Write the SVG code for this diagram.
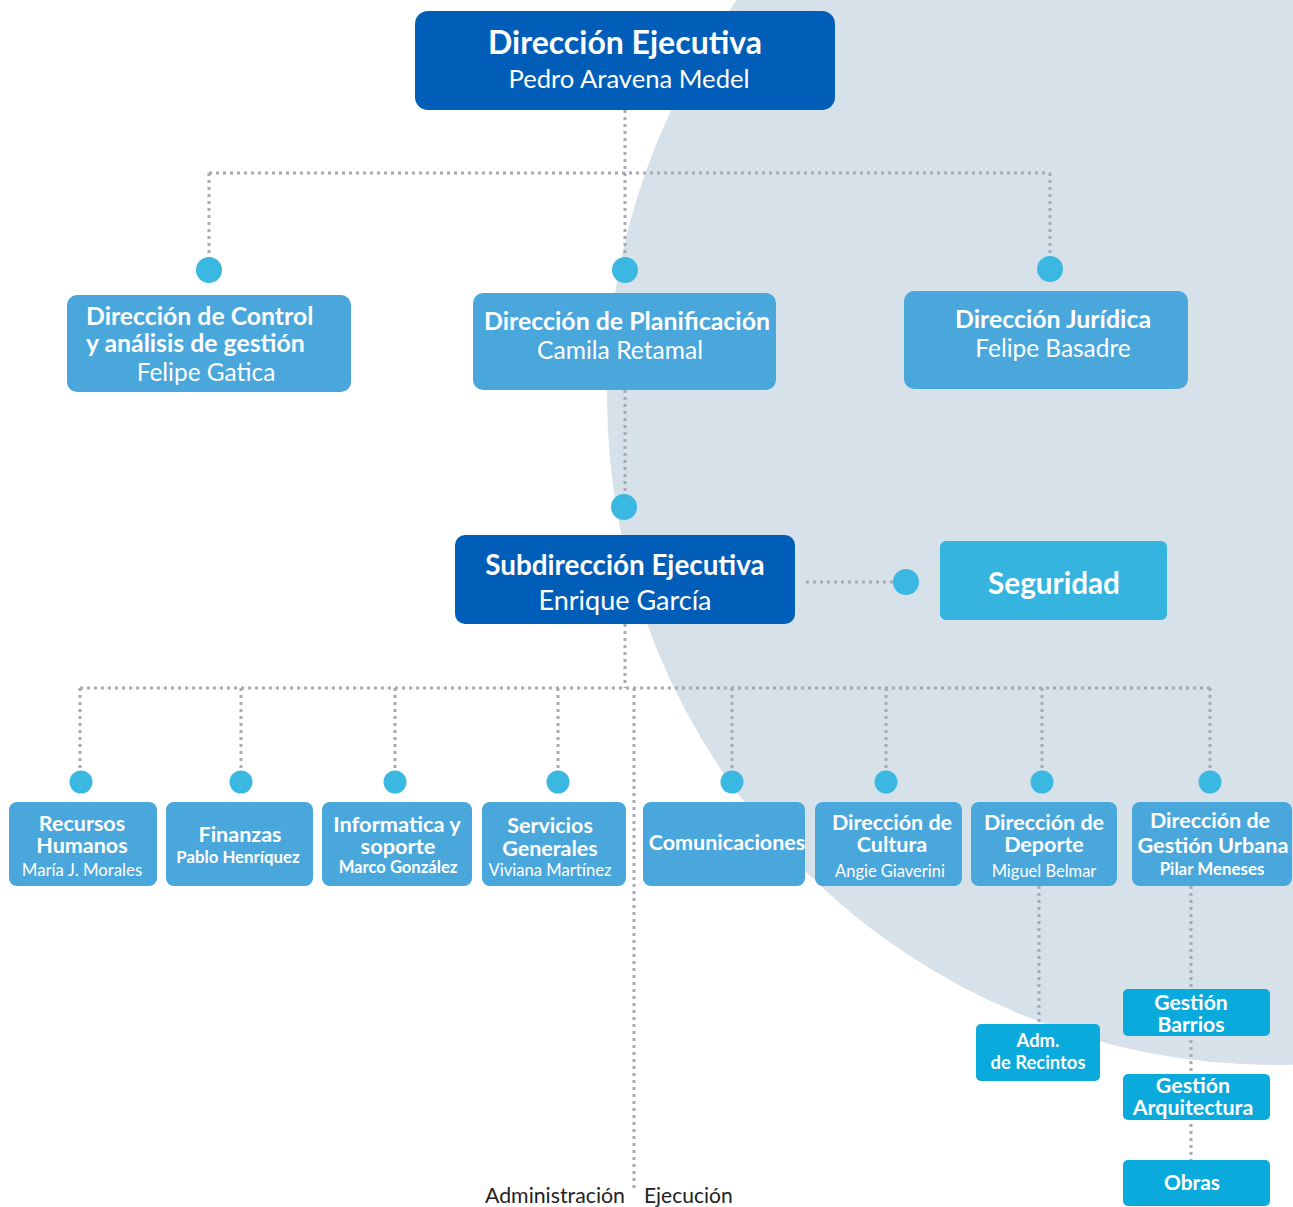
<svg xmlns="http://www.w3.org/2000/svg" width="1293" height="1207" viewBox="0 0 1293 1207">
<style>
text{font-family:Lato,"Liberation Sans",sans-serif;fill:#fff;text-anchor:middle}
.b{font-weight:bold}
.dk{fill:#005EB8}
.md{fill:#4AA7DC}
.cy{fill:#0AAADC}
.dot{fill:#3BB8E2}
.ln{stroke:#A7AAB5;stroke-width:3;stroke-dasharray:3 4;fill:none}
.lbl{fill:#222}
</style>
<rect width="1293" height="1207" fill="#fff"/>
<circle cx="1276" cy="396" r="669" fill="#D6E1E9"/>
<g id="connectors">
<path class="ln" d="M625 110V258M209 173H1050M209 173V258M1050 173V257"/>
<path class="ln" d="M625 390V495"/>
<path class="ln" d="M806 582H893"/>
<path class="ln" d="M625 624V688M80 688H1210M80 688V770M241 688V770M395 688V770M558 688V770M732 688V770M886 688V770M1042 688V770M1210 688V770"/>
<path class="ln" d="M634 688V1188"/>
<path class="ln" d="M1039 886V1022M1191 886V1160"/>
<circle class="dot" cx="209" cy="270" r="13"/>
<circle class="dot" cx="625" cy="270" r="13"/>
<circle class="dot" cx="1050" cy="269" r="13"/>
<circle class="dot" cx="624" cy="507" r="13"/>
<circle class="dot" cx="906" cy="582" r="13"/>
<circle class="dot" cx="81" cy="782" r="11.5"/>
<circle class="dot" cx="241" cy="782" r="11.5"/>
<circle class="dot" cx="395" cy="782" r="11.5"/>
<circle class="dot" cx="558" cy="782" r="11.5"/>
<circle class="dot" cx="732" cy="782" r="11.5"/>
<circle class="dot" cx="886" cy="782" r="11.5"/>
<circle class="dot" cx="1042" cy="782" r="11.5"/>
<circle class="dot" cx="1210" cy="782" r="11.5"/>
</g>
<g id="ejecutiva">
<rect class="dk" x="415" y="11" width="420" height="99" rx="13"/>
<text class="b" x="625" y="54" font-size="32">Dirección Ejecutiva</text>
<text x="629" y="88" font-size="25.6">Pedro Aravena Medel</text>
</g>
<g id="control">
<rect class="md" x="67" y="295" width="284" height="97" rx="10"/>
<text class="b" x="86" y="325" font-size="24.8" style="text-anchor:start">Dirección de Control</text>
<text class="b" x="86" y="352" font-size="24.8" style="text-anchor:start">y análisis de gestión</text>
<text x="206" y="381" font-size="24.4">Felipe Gatica</text>
</g>
<g id="planificacion">
<rect class="md" x="473" y="293" width="303" height="97" rx="10"/>
<text class="b" x="627" y="330" font-size="24.9">Dirección de Planificación</text>
<text x="620" y="359" font-size="24.6">Camila Retamal</text>
</g>
<g id="juridica">
<rect class="md" x="904" y="291" width="284" height="98" rx="10"/>
<text class="b" x="1053" y="328" font-size="24.9">Dirección Jurídica</text>
<text x="1053" y="357" font-size="24.4">Felipe Basadre</text>
</g>
<g id="subdireccion">
<rect class="dk" x="455" y="535" width="340" height="89" rx="10"/>
<text class="b" x="625" y="575" font-size="27.8">Subdirección Ejecutiva</text>
<text x="625" y="610" font-size="27">Enrique García</text>
</g>
<g id="seguridad">
<rect fill="#35B4E0" x="940" y="541" width="227" height="79" rx="6"/>
<text class="b" x="1054" y="594" font-size="29.7">Seguridad</text>
</g>
<g id="rrhh">
<rect class="md" x="9" y="802" width="148" height="84" rx="8"/>
<text class="b" x="82" y="831" font-size="21.5">Recursos</text>
<text class="b" x="82" y="853" font-size="21.5">Humanos</text>
<text x="82" y="876" font-size="16.8">María J. Morales</text>
</g>
<g id="finanzas">
<rect class="md" x="166" y="802" width="147" height="84" rx="8"/>
<text class="b" x="240" y="842" font-size="21.5">Finanzas</text>
<text class="b" x="238" y="863" font-size="16.8">Pablo Henríquez</text>
</g>
<g id="informatica">
<rect class="md" x="322" y="802" width="150" height="84" rx="8"/>
<text class="b" x="397" y="832" font-size="21.8">Informatica y</text>
<text class="b" x="398" y="854" font-size="21.8">soporte</text>
<text class="b" x="398" y="873" font-size="16.6">Marco González</text>
</g>
<g id="servicios">
<rect class="md" x="482" y="802" width="144" height="84" rx="8"/>
<text class="b" x="550" y="833" font-size="21.5">Servicios</text>
<text class="b" x="550" y="856" font-size="21.5">Generales</text>
<text x="550" y="876" font-size="16.6">Viviana Martínez</text>
</g>
<g id="comunicaciones">
<rect class="md" x="643" y="802" width="162" height="84" rx="8"/>
<text class="b" x="727" y="850" font-size="21.5">Comunicaciones</text>
</g>
<g id="cultura">
<rect class="md" x="815" y="802" width="147" height="84" rx="8"/>
<text class="b" x="892" y="830" font-size="21.5">Dirección de</text>
<text class="b" x="892" y="852" font-size="21.5">Cultura</text>
<text x="890" y="877" font-size="16.5">Angie Giaverini</text>
</g>
<g id="deporte">
<rect class="md" x="971" y="802" width="146" height="84" rx="8"/>
<text class="b" x="1044" y="830" font-size="21.5">Dirección de</text>
<text class="b" x="1044" y="852" font-size="21.5">Deporte</text>
<text x="1044" y="877" font-size="16.5">Miguel Belmar</text>
</g>
<g id="gestionurbana">
<rect class="md" x="1132" y="802" width="160" height="84" rx="8"/>
<text class="b" x="1210" y="828" font-size="21.5">Dirección de</text>
<text class="b" x="1213" y="853" font-size="21.7">Gestión Urbana</text>
<text class="b" x="1212" y="875" font-size="16.9">Pilar Meneses</text>
</g>
<g id="recintos">
<rect class="cy" x="976" y="1024" width="124" height="57" rx="5"/>
<text class="b" x="1038" y="1047" font-size="18.4">Adm.</text>
<text class="b" x="1038" y="1069" font-size="18.4">de Recintos</text>
</g>
<g id="barrios">
<rect class="cy" x="1123" y="989" width="147" height="47" rx="5"/>
<text class="b" x="1191" y="1010" font-size="21.2">Gestión</text>
<text class="b" x="1191" y="1032" font-size="21.2">Barrios</text>
</g>
<g id="arquitectura">
<rect class="cy" x="1123" y="1074" width="147" height="46" rx="5"/>
<text class="b" x="1193" y="1093" font-size="21.4">Gestión</text>
<text class="b" x="1193" y="1115" font-size="21.4">Arquitectura</text>
</g>
<g id="obras">
<rect class="cy" x="1123" y="1160" width="147" height="46" rx="5"/>
<text class="b" x="1192" y="1190" font-size="20.9">Obras</text>
</g>
<g id="labels">
<text class="lbl" x="625" y="1203" font-size="21.3" style="text-anchor:end">Administración</text>
<text class="lbl" x="644" y="1203" font-size="21" style="text-anchor:start">Ejecución</text>
</g>
</svg>
